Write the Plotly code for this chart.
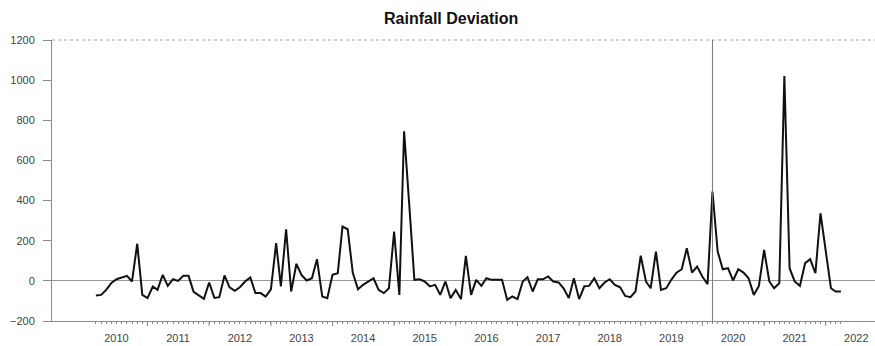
import pandas as pd
import plotly.graph_objects as go

# Monthly rainfall deviation, March 2010 onwards
START_MONTH = "2010-03-01"
deviation = [
    -73, -70, -45, -10, 8, 15, 25, -3, 185, -70,
    -86, -28, -45, 30, -25, 8, 0, 25, 25, -55,
    -72, -90, -8, -85, -81, 27, -32, -50, -32, -3,
    17, -61, -61, -78, -42, 188, -28, 257, -53, 85,
    30, 2, 13, 108, -78, -86, 30, 38, 270, 257,
    40, -42, -20, -3, 13, -45, -61, -37, 246, -70,
    745, 375, 5, 8, -3, -28, -20, -70, -3, -86,
    -45, -91, 125, -70, 5, -25, 13, 5, 5, 5,
    -95, -78, -91, -3, 18, -53, 8, 8, 22, -3,
    -8, -37, -86, 13, -91, -27, -25, 13, -37, -8,
    8, -20, -32, -75, -81, -53, 125, -3, -37, 146,
    -45, -37, 5, 41, 58, 163, 41, 71, 22, -17,
    445, 146, 58, 63, 2, 58, 41, 13, -70, -25,
    154, -3, -37, -12, 1020, 63, -3, -25, 88, 108,
    38, 337, 150, -37, -53, -53,
]
year_labels = [str(y) for y in range(2010, 2023)]
y_ticks = [-200, 0, 200, 400, 600, 800, 1000, 1200]
EVENT_DATE = "2020-03-01"

dates = pd.date_range(START_MONTH, periods=len(deviation), freq="MS")
year_mid = [f"{y}-07-01" for y in year_labels]
year_starts = [d for d in dates if d.month == 1]

AXIS_GREY = "#8a8a8a"
TEXT_GREY = "#444444"
PLOT_H = 346 - 40 - 25

fig = go.Figure()
fig.add_trace(go.Scatter(
    x=dates, y=deviation, mode="lines",
    line=dict(color="#111111", width=2),
    showlegend=False, hoverinfo="x+y",
))

shapes = []
# year boundary ticks (longer than the monthly ones)
for d in year_starts:
    shapes.append(dict(type="line", xref="x", yref="paper",
                       x0=d, x1=d, y0=0, y1=-5 / PLOT_H,
                       line=dict(color=AXIS_GREY, width=1)))
# dotted frame along the top
shapes.append(dict(type="line", xref="paper", yref="paper",
                   x0=0, x1=1, y0=1, y1=1,
                   line=dict(color="#a0a0a0", width=1, dash="dot")))
# event marker
shapes.append(dict(type="line", xref="x", yref="paper",
                   x0=EVENT_DATE, x1=EVENT_DATE, y0=0, y1=1,
                   line=dict(color="#777777", width=1)))

fig.update_layout(
    width=875, height=346,
    margin=dict(l=52, r=0, t=40, b=25),
    paper_bgcolor="white", plot_bgcolor="white",
    title=dict(text="<b>Rainfall Deviation</b>",
               font=dict(family="Liberation Sans, Arial", size=16, color="#111111"),
               x=0.485, xref="paper", xanchor="center",
               y=1 - 18 / 346, yref="container", yanchor="middle"),
    font=dict(family="Liberation Sans, Arial", size=11, color=TEXT_GREY),
    shapes=shapes,
    xaxis=dict(
        type="date",
        range=["2009-06-14", "2022-10-20"],
        tickmode="array", tickvals=year_mid, ticktext=year_labels,
        ticks="", showgrid=False, zeroline=False,
        showline=True, linecolor=AXIS_GREY, linewidth=1,
        tickfont=dict(size=11, color=TEXT_GREY),
        ticklabelstandoff=7,
        minor=dict(tickmode="array", tickvals=list(dates), ticks="outside",
                   ticklen=2, tickcolor=AXIS_GREY, tickwidth=1, showgrid=False),
    ),
    yaxis=dict(
        range=[-200, 1200],
        tickmode="array", tickvals=y_ticks,
        ticks="outside", ticklen=8, tickcolor=AXIS_GREY,
        showgrid=False,
        showline=True, linecolor=AXIS_GREY, linewidth=1,
        zeroline=True, zerolinecolor="#999999", zerolinewidth=1,
        tickfont=dict(size=11, color=TEXT_GREY),
        ticklabelstandoff=6,
    ),
)

fig.write_html("out.html")
